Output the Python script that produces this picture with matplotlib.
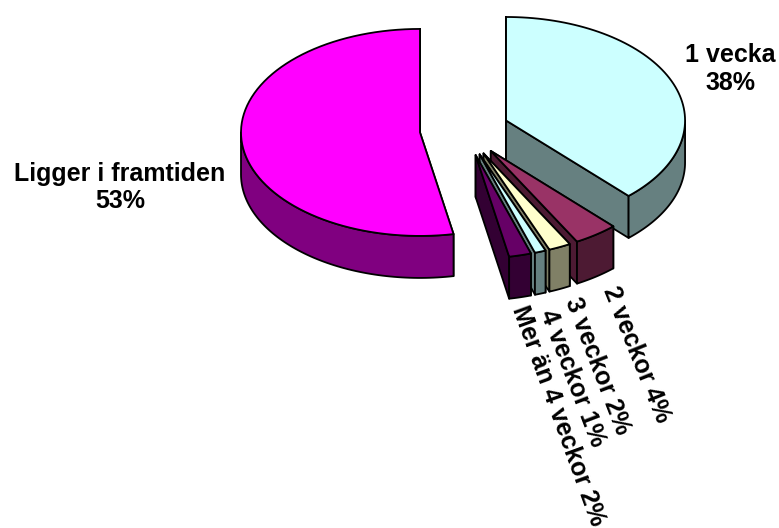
import numpy as np
import matplotlib
matplotlib.use("Agg")
import matplotlib.pyplot as plt
from matplotlib.patches import Polygon

labels = ["1 vecka", "2 veckor", "3 veckor", "4 veckor", "Mer än 4 veckor", "Ligger i framtiden"]
values = [38, 4, 2, 1, 2, 53]
top_colors = ["#CCFFFF", "#993366", "#FFFFCC", "#CCFFFF", "#660066", "#FF00FF"]
side_colors = ["#668080", "#4D1A33", "#808066", "#668080", "#330033", "#800080"]

CX, CY = 464.5, 130
RX, RY = 179, 103.5
EXPLODE = 44.7
DEPTH = 42
LW = 1.3


def point(ang, cx, cy):
    # angle is clockwise from twelve o'clock, y axis points down
    return cx + RX*np.sin(ang), cy - RY*np.cos(ang)

def drawWedge(ax, start, end, top, side):
    mid = (start + end) / 2
    cx = CX + EXPLODE*np.sin(mid)
    cy = CY - EXPLODE*RY/RX*np.cos(mid)
    angs = np.linspace(start, end, 80)
    xs, ys = point(angs, cx, cy)

    # flat faces first, the top hides whichever one faces away
    for a in (start, end):
        x, y = point(a, cx, cy)
        face = [(cx, cy), (x, y), (x, y+DEPTH), (cx, cy+DEPTH)]
        ax.add_patch(Polygon(face, fc=side, ec="black", lw=LW, joinstyle="round"))

    # outer wall, only the part turned to the viewer
    lo = max(start, np.pi/2)
    hi = min(end, 3*np.pi/2)
    if hi > lo:
        wa = np.linspace(lo, hi, 80)
        wx, wy = point(wa, cx, cy)
        wall = list(zip(wx, wy)) + list(zip(wx[::-1], wy[::-1]+DEPTH))
        ax.add_patch(Polygon(wall, fc=side, ec="black", lw=LW, joinstyle="round"))

    outline = [(cx, cy)] + list(zip(xs, ys))
    ax.add_patch(Polygon(outline, fc=top, ec="black", lw=LW, joinstyle="round"))


fig = plt.figure(figsize=(7.79, 5.28), dpi=100)
ax = fig.add_axes([0, 0, 1, 1])
ax.set_xlim(0, 779)
ax.set_ylim(528, 0)
ax.axis("off")

edges = np.cumsum([0] + values) / sum(values) * 2*np.pi
for i in range(len(values)):
    drawWedge(ax, edges[i], edges[i+1], top_colors[i], side_colors[i])

font = dict(family="Liberation Sans", fontweight="bold", fontsize=18, color="black")
ax.text(730, 69, f"{labels[0]}\n{values[0]}%", ha="center", va="center", linespacing=1.2, **font)
ax.text(120, 187.5, f"{labels[5]}\n{values[5]}%", ha="center", va="center", linespacing=1.2, **font)

# rotated labels under the small slices
rot = [(1, 609, 287, -68), (2, 572, 298, -69), (3, 547, 310, -69), (4, 519, 307, -70)]
for i, x, y, r in rot:
    ax.text(x, y, f"{labels[i]} {values[i]}%", rotation=r, rotation_mode="anchor",
            ha="left", va="center", clip_on=True, **font)

fig.savefig("out.png", dpi=100)
